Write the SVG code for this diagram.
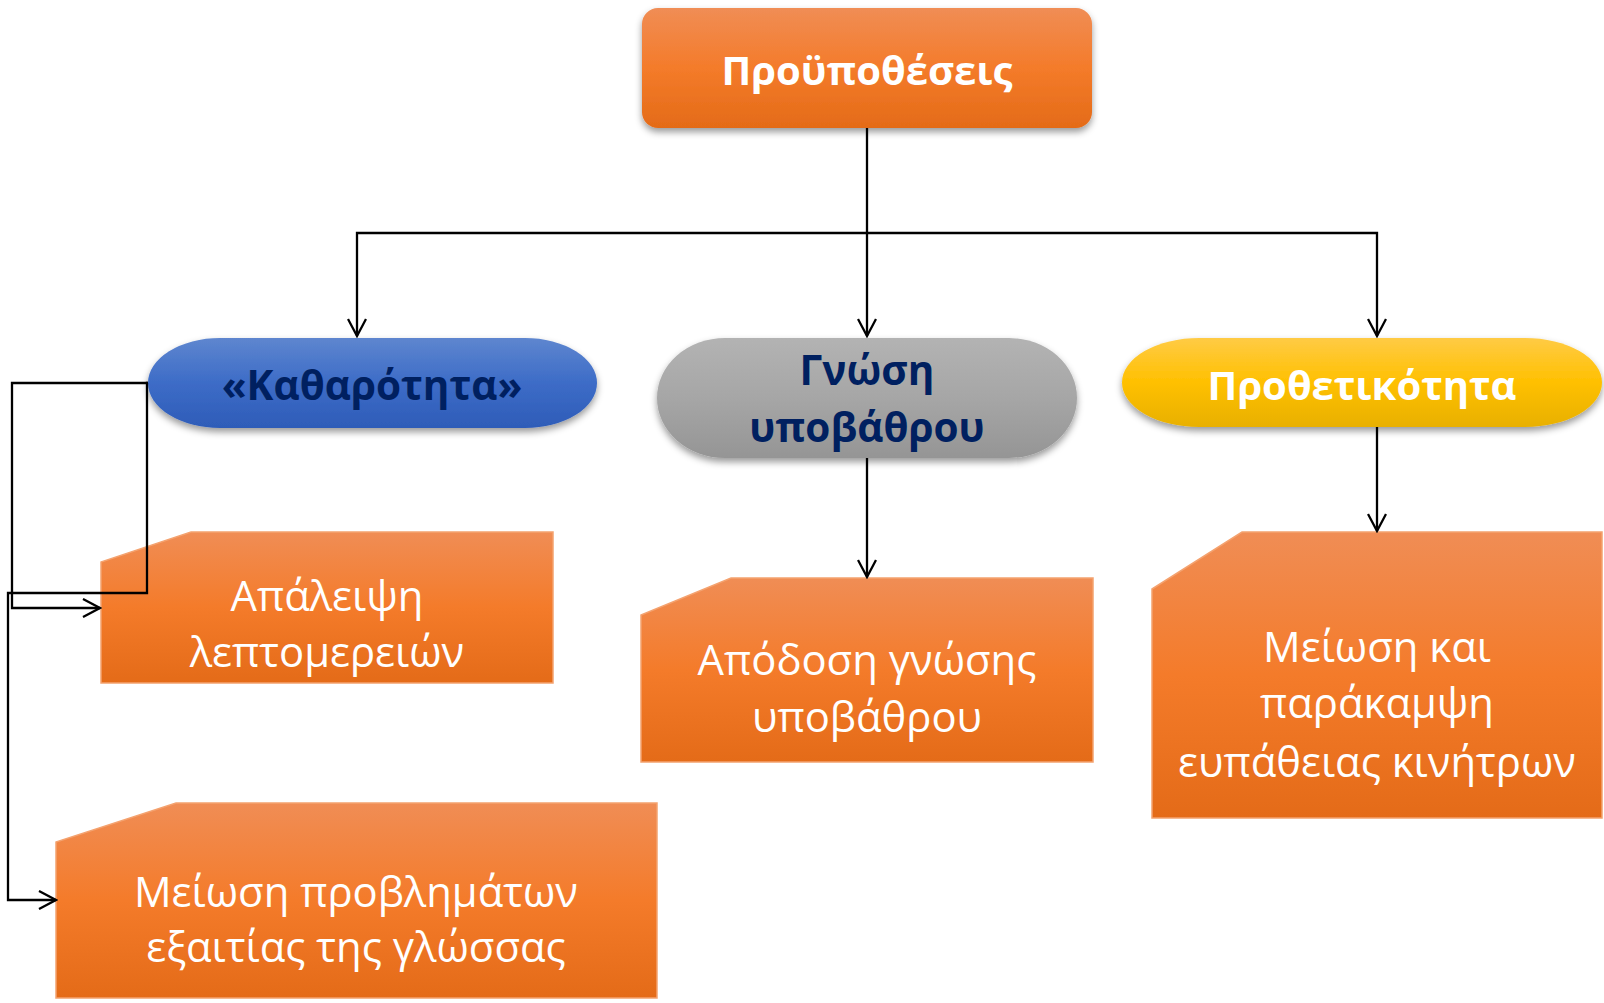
<svg xmlns="http://www.w3.org/2000/svg" width="1604" height="1003" viewBox="0 0 1604 1003">
<style>
.lbl{font-family:"Open Sans","Noto Sans","DejaVu Sans",sans-serif;text-anchor:middle}
.w{fill:#ffffff;font-size:41.8px}
.wb{fill:#ffffff;font-size:40px;font-weight:bold}
.nb{fill:#002060;font-size:40.5px;font-weight:bold}
.card{fill:url(#gOrange);stroke:#F4A26F;stroke-width:1.5}
.con{fill:none;stroke:#000;stroke-width:2.3}
</style>
<defs>
<linearGradient id="gOrange" x1="0" y1="0" x2="0" y2="1">
<stop offset="0" stop-color="#F08D55"/>
<stop offset="0.5" stop-color="#F47B2A"/>
<stop offset="1" stop-color="#E46B18"/>
</linearGradient>
<linearGradient id="gBlue" x1="0" y1="0" x2="0" y2="1">
<stop offset="0" stop-color="#5E86CF"/>
<stop offset="0.5" stop-color="#3D6CC7"/>
<stop offset="1" stop-color="#2E5CB8"/>
</linearGradient>
<linearGradient id="gGray" x1="0" y1="0" x2="0" y2="1">
<stop offset="0" stop-color="#B3B3B3"/>
<stop offset="0.5" stop-color="#A6A6A6"/>
<stop offset="1" stop-color="#959595"/>
</linearGradient>
<linearGradient id="gYellow" x1="0" y1="0" x2="0" y2="1">
<stop offset="0" stop-color="#FFCB45"/>
<stop offset="0.5" stop-color="#FFC000"/>
<stop offset="1" stop-color="#E8B000"/>
</linearGradient>
<filter id="sh" x="-10%" y="-20%" width="120%" height="150%">
<feDropShadow dx="0" dy="4" stdDeviation="3.5" flood-color="#000" flood-opacity="0.4"/>
</filter>
<marker id="arr" viewBox="0 0 20 20" refX="18" refY="10" markerWidth="20" markerHeight="20" markerUnits="userSpaceOnUse" orient="auto">
<path d="M1,1 L18,10 L1,19" fill="none" stroke="#000" stroke-width="2.3"/>
</marker>
</defs>

<g id="node-prerequisites">
<rect x="642" y="8" width="450" height="120" rx="16" fill="url(#gOrange)" filter="url(#sh)"/>
<text class="lbl wb" x="867" y="85">Προϋποθέσεις</text>
</g>

<g id="node-clarity">
<rect x="148" y="338" width="449" height="90" rx="72" ry="45" fill="url(#gBlue)" filter="url(#sh)"/>
<text class="lbl nb" x="372" y="400">«Καθαρότητα»</text>
</g>

<g id="node-background">
<rect x="657" y="338" width="420" height="120" rx="68" ry="60" fill="url(#gGray)" filter="url(#sh)"/>
<text class="lbl nb" x="867" y="385">Γνώση</text>
<text class="lbl nb" x="867" y="442">υποβάθρου</text>
</g>

<g id="node-positivity">
<rect x="1122" y="338" width="480" height="89" rx="77" ry="44.5" fill="url(#gYellow)" filter="url(#sh)"/>
<text class="lbl wb" x="1362" y="400">Προθετικότητα</text>
</g>

<g id="node-details">
<path class="card" d="M191,532 H553 V683 H101 V562 Z"/>
<text class="lbl w" x="327" y="611">Απάλειψη</text>
<text class="lbl w" x="327" y="667">λεπτομερειών</text>
</g>

<g id="node-language">
<path class="card" d="M176,803 H657 V998 H56 V842 Z"/>
<text class="lbl w" x="356" y="907">Μείωση προβλημάτων</text>
<text class="lbl w" x="356" y="962">εξαιτίας της γλώσσας</text>
</g>

<g id="node-knowledge">
<path class="card" d="M731,578 H1093 V762 H641 V615 Z"/>
<text class="lbl w" x="867" y="675">Απόδοση γνώσης</text>
<text class="lbl w" x="867" y="732">υποβάθρου</text>
</g>

<g id="node-bias">
<path class="card" d="M1242,532 H1602 V818 H1152 V589 Z"/>
<text class="lbl w" x="1377" y="662">Μείωση και</text>
<text class="lbl w" x="1377" y="718">παράκαμψη</text>
<text class="lbl w" x="1377" y="777">ευπάθειας κινήτρων</text>
</g>

<g id="connectors">
<path class="con" d="M867,128 V233"/>
<path class="con" d="M867,233 H357 V336" marker-end="url(#arr)"/>
<path class="con" d="M867,233 V336" marker-end="url(#arr)"/>
<path class="con" d="M867,233 H1377 V336" marker-end="url(#arr)"/>
<path class="con" d="M867,458 V577" marker-end="url(#arr)"/>
<path class="con" d="M1377,427 V531" marker-end="url(#arr)"/>
<path class="con" d="M148,383 H12 V608 H100" marker-end="url(#arr)"/>
<path class="con" d="M148,383 H147 V593 H8 V900 H56" marker-end="url(#arr)"/>
</g>
</svg>
